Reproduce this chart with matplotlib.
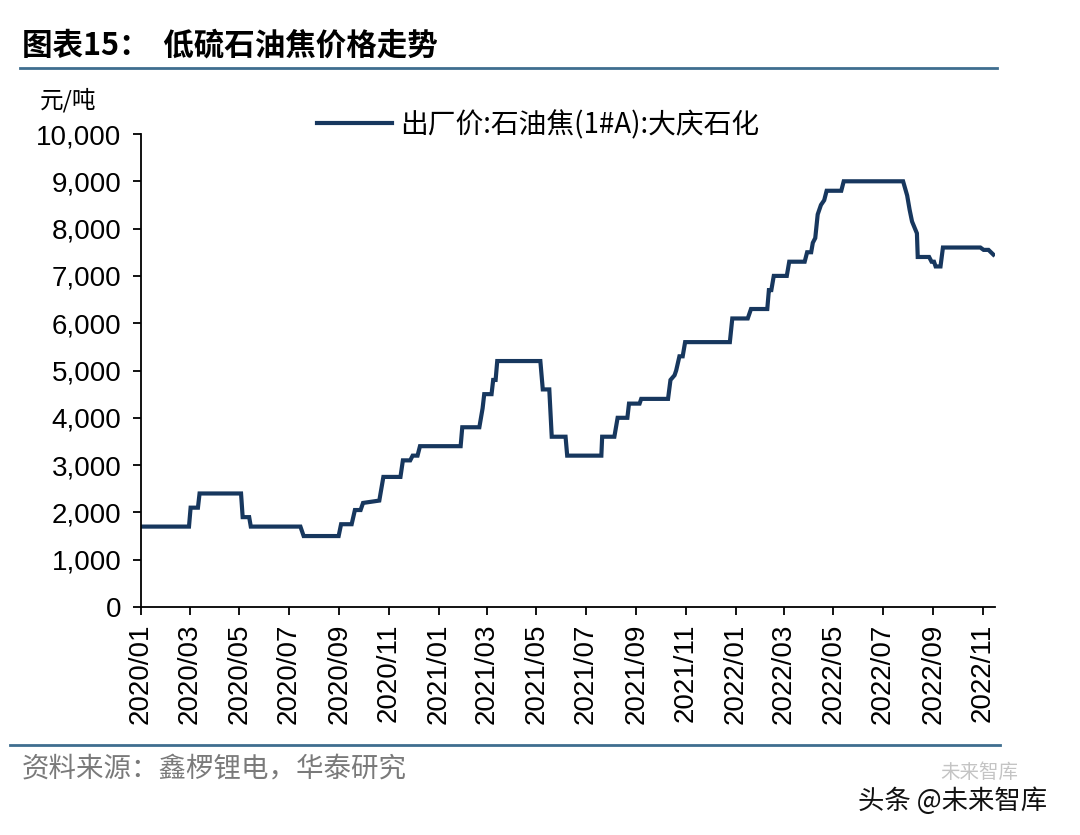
import matplotlib
matplotlib.use("Agg")
import matplotlib.pyplot as plt
import pandas as pd
from matplotlib.lines import Line2D

plt.rcParams['font.family'] = ['Liberation Sans', 'Noto Sans CJK SC', 'DejaVu Sans']

# ---- data ----
dates = ["2020-01-01", "2020-02-29", "2020-03-02", "2020-03-11", "2020-03-13", "2020-05-03",
         "2020-05-05", "2020-05-13", "2020-05-15", "2020-07-15", "2020-07-19", "2020-08-31",
         "2020-09-03", "2020-09-16", "2020-09-20", "2020-09-27", "2020-09-30", "2020-10-20",
         "2020-10-25", "2020-11-15", "2020-11-18", "2020-11-27", "2020-11-30", "2020-12-06",
         "2020-12-09", "2021-01-28", "2021-01-30", "2021-02-20", "2021-02-24", "2021-02-26",
         "2021-03-07", "2021-03-09", "2021-03-12", "2021-03-14", "2021-05-06", "2021-05-09",
         "2021-05-17", "2021-05-20", "2021-06-06", "2021-06-08", "2021-07-20", "2021-07-21",
         "2021-08-05", "2021-08-09", "2021-08-21", "2021-08-23", "2021-09-05", "2021-09-07",
         "2021-10-10", "2021-10-13", "2021-10-18", "2021-10-20", "2021-10-24", "2021-10-28",
         "2021-10-31", "2021-12-25", "2021-12-28", "2022-01-16", "2022-01-20", "2022-02-09",
         "2022-02-11", "2022-02-14", "2022-02-17", "2022-03-05", "2022-03-08", "2022-03-27",
         "2022-03-30", "2022-04-04", "2022-04-06", "2022-04-09", "2022-04-12", "2022-04-16",
         "2022-04-20", "2022-04-23", "2022-05-11", "2022-05-14", "2022-07-26", "2022-07-31",
         "2022-08-03", "2022-08-06", "2022-08-12", "2022-08-13", "2022-08-27", "2022-08-30",
         "2022-09-02", "2022-09-04", "2022-09-10", "2022-09-13", "2022-10-29", "2022-11-02",
         "2022-11-08", "2022-11-14"]
prices = [1700, 1700, 2100, 2100, 2400, 2400,
          1900, 1900, 1700, 1700, 1500, 1500,
          1750, 1750, 2050, 2050, 2200, 2250,
          2750, 2750, 3100, 3100, 3200, 3200,
          3400, 3400, 3800, 3800, 4200, 4500,
          4500, 4800, 4800, 5200, 5200, 4600,
          4600, 3600, 3600, 3200, 3200, 3600,
          3600, 4000, 4000, 4300, 4300, 4400,
          4400, 4800, 4900, 5000, 5300, 5300,
          5600, 5600, 6100, 6100, 6300, 6300,
          6700, 6700, 7000, 7000, 7300, 7300,
          7500, 7500, 7700, 7800, 8300, 8500,
          8600, 8800, 8800, 9000, 9000, 8700,
          8400, 8150, 7900, 7400, 7400, 7300,
          7300, 7200, 7200, 7600, 7600, 7550,
          7550, 7450]
series_name = "出厂价:石油焦(1#A):大庆石化"
tick_labels = ["2020/01", "2020/03", "2020/05", "2020/07", "2020/09", "2020/11",
               "2021/01", "2021/03", "2021/05", "2021/07", "2021/09", "2021/11",
               "2022/01", "2022/03", "2022/05", "2022/07", "2022/09", "2022/11"]
y_ticks = [0, 1000, 2000, 3000, 4000, 5000, 6000, 7000, 8000, 9000, 10000]

# ---- figure ----
W, H = 1080, 835
fig = plt.figure(figsize=(W / 100, H / 100), dpi=100)
ax = fig.add_axes([141 / W, 1 - 607 / H, (995 - 141) / W, (607 - 134) / H])

x = pd.to_datetime(dates)
line_color = "#17375E"
ax.plot(x, prices, color=line_color, lw=3.0, solid_joinstyle="miter")

ax.set_ylim(0, 10000)
ax.set_yticks(y_ticks)
ax.set_yticklabels([f"{v:,}" for v in y_ticks])
ax.set_xlim(pd.Timestamp("2020-01-01"), pd.Timestamp("2022-11-16"))
tick_pos = [pd.Timestamp(t.replace("/", "-") + "-01") for t in tick_labels]
ax.set_xticks(tick_pos)
ax.set_xticklabels(tick_labels, rotation=90)

for s in ["top", "right"]:
    ax.spines[s].set_visible(False)
for s in ["left", "bottom"]:
    ax.spines[s].set_linewidth(1.3)
    ax.spines[s].set_color("black")
ax.tick_params(axis="both", direction="out", length=6, width=1.3, colors="black",
               labelsize=20)
ax.tick_params(axis="y", pad=8)
ax.tick_params(axis="x", pad=6)

# legend
ax.legend([Line2D([0], [0], color=line_color, lw=3.0)], [series_name],
          loc="center left", bbox_to_anchor=(176 / 854, 1.019), frameon=False,
          prop={"family": ["Noto Sans CJK SC", "Liberation Sans"], "size": 20},
          handlelength=2.7, handletextpad=0.3, borderaxespad=0, borderpad=0)

# unit label
fig.text(40 / W, 1 - 100 / H, "元/吨", fontsize=17, family=["Noto Sans CJK SC"],
         va="center", ha="left")

# title
fig.text(22 / W, 1 - 46 / H, "图表15：  低硫石油焦价格走势", fontsize=22, fontweight="bold",
         family=["Noto Sans CJK SC"], va="center", ha="left")
fig.add_artist(Line2D([20 / W, 997 / W], [1 - 68 / H, 1 - 68 / H], color="#3F6E8F", lw=2))

# footer
fig.add_artist(Line2D([10 / W, 1000 / W], [1 - 745 / H, 1 - 745 / H], color="#3F6E8F", lw=2))
fig.text(22 / W, 1 - 769 / H, "资料来源：鑫椤锂电，华泰研究", fontsize=19.8, color="#7A7A7A",
         family=["Noto Sans CJK SC"], va="center", ha="left")

# watermark
fig.text(940 / W, 1 - 772 / H, "未来智库", fontsize=14, color="#C4C4C4",
         family=["Noto Sans CJK SC"], va="center", ha="left")
fig.text(858 / W, 1 - 801 / H, "头条 @未来智库", fontsize=19, color="#111111",
         family=["Noto Sans CJK SC"], va="center", ha="left")

fig.savefig("out.png", dpi=100, facecolor="white")
